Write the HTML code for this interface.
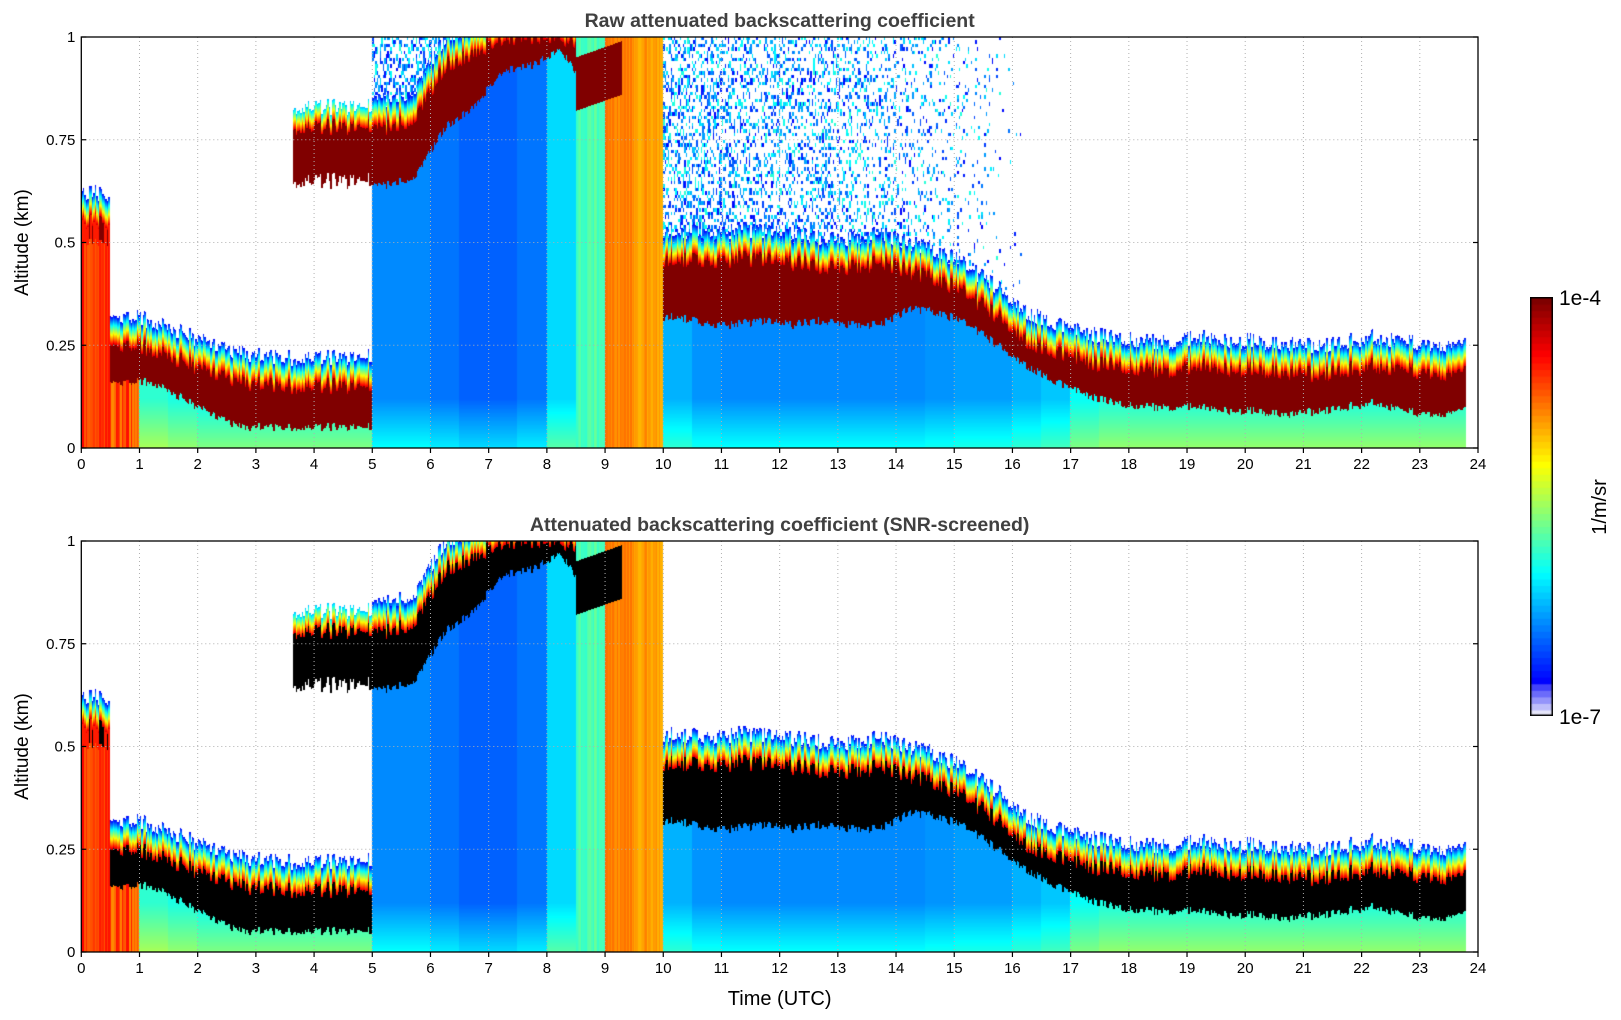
<!DOCTYPE html>
<html><head><meta charset="utf-8">
<style>
body{margin:0;background:#fff;width:1621px;height:1020px;overflow:hidden;font-family:"Liberation Sans","DejaVu Sans",sans-serif;}
canvas{position:absolute;}
svg{position:absolute;left:0;top:0;}
</style></head>
<body>
<canvas id="c1" width="1397" height="411" style="left:81px;top:37px"></canvas>
<canvas id="c2" width="1397" height="411" style="left:81px;top:541px"></canvas>
<canvas id="cb" width="23" height="419" style="left:1530px;top:297px"></canvas>
<svg id="ax" width="1621" height="1020"></svg>
<script>
// ---- data (per half hour, midpoints 0.25 ... 23.75) ----
const hours=[0.25,0.75,1.25,1.75,2.25,2.75,3.25,3.75,4.25,4.75,5.25,5.75,6.25,6.75,7.25,7.75,8.25,8.75,9.25,9.75,10.25,10.75,11.25,11.75,12.25,12.75,13.25,13.75,14.25,14.75,15.25,15.75,16.25,16.75,17.25,17.75,18.25,18.75,19.25,19.75,20.25,20.75,21.25,21.75,22.25,22.75,23.25,23.75];
const layerBase=[0.50,0.16,0.16,0.12,0.08,0.05,0.05,0.05,0.05,0.05,0.64,0.66,0.78,0.83,0.92,0.93,0.97,0.85,0,0,0.32,0.30,0.30,0.31,0.30,0.31,0.30,0.30,0.34,0.33,0.30,0.25,0.20,0.16,0.13,0.11,0.10,0.10,0.10,0.09,0.09,0.08,0.09,0.10,0.11,0.09,0.08,0.09];
const layerTop=[0.55,0.25,0.24,0.21,0.18,0.16,0.15,0.15,0.15,0.15,0.78,0.80,0.93,0.96,1.00,1.00,1.00,0.95,0,0,0.46,0.45,0.46,0.46,0.45,0.44,0.44,0.45,0.43,0.41,0.37,0.32,0.26,0.23,0.21,0.20,0.19,0.19,0.20,0.19,0.19,0.18,0.18,0.19,0.20,0.19,0.18,0.18];
const fillVal=[0.82,0.80,0.42,0.40,0.38,0.38,0.38,0.38,0.38,0.38,0.26,0.26,0.24,0.22,0.22,0.24,0.34,0.45,0.75,0.72,0.30,0.27,0.26,0.26,0.26,0.26,0.26,0.26,0.26,0.27,0.28,0.28,0.30,0.32,0.38,0.40,0.40,0.40,0.40,0.40,0.40,0.40,0.40,0.40,0.40,0.40,0.40,0.40];
const noiseDensity=[0,0,0,0,0,0,0,0,0,0,0.35,0.4,0.45,0.45,0.45,0.45,0.45,0.45,0.45,0.4,0.35,0.35,0.3,0.3,0.3,0.3,0.25,0.2,0.15,0.1,0.08,0.03,0,0,0,0,0,0,0,0,0,0,0,0,0,0,0,0];
const rainFlag=[0,0,0,0,0,0,0,0,0,0,0,0,0,0,0,0,0,1,1,1,0,0,0,0,0,0,0,0,0,0,0,0,0,0,0,0,0,0,0,0,0,0,0,0,0,0,0,0];
const layer2Base=[0,0,0,0,0,0,0,0.65,0.65,0.65,0,0,0,0,0,0,0,0,0,0,0,0,0,0,0,0,0,0,0,0,0,0,0,0,0,0,0,0,0,0,0,0,0,0,0,0,0,0];
const layer2Top=[0,0,0,0,0,0,0,0.78,0.78,0.78,0,0,0,0,0,0,0,0,0,0,0,0,0,0,0,0,0,0,0,0,0,0,0,0,0,0,0,0,0,0,0,0,0,0,0,0,0,0];
const xTicks=[0,1,2,3,4,5,6,7,8,9,10,11,12,13,14,15,16,17,18,19,20,21,22,23,24];
const yTicks=[0,0.25,0.5,0.75,1];
const yTickLabels=["0","0.25","0.5","0.75","1"];

const X0=81.3,X1=1478,W=X1-X0,H=411;
const xs=t=>X0+t/24*W;
function interp(arr,t){
  if(t<=hours[0])return arr[0];
  if(t>=hours[hours.length-1])return arr[arr.length-1];
  let i=Math.floor((t-0.25)/0.5);const f=(t-hours[i])/0.5;
  if(Math.abs(arr[i]-arr[i+1])>0.15)return f<0.5?arr[i]:arr[i+1];
  return arr[i]*(1-f)+arr[i+1]*f;
}
function near(arr,t){return arr[Math.min(arr.length-1,Math.max(0,Math.floor(t/0.5)))];}
function hash(a,b){let h=(a*374761393+b*668265263)|0;h=(h^(h>>>13))*1274126177|0;return ((h^(h>>>16))>>>0)/4294967296;}
function jet(v){const c=x=>Math.max(0,Math.min(1,x));return [c(1.5-Math.abs(4*v-3))*255,c(1.5-Math.abs(4*v-2))*255,c(1.5-Math.abs(4*v-1))*255];}

function value(t,z,col,screened){
  if(t>23.8)return null;
  const cj=(hash(col,7)-0.5)*0.04;
  if(near(rainFlag,t)){
    if(t<9.3 && z>0.82+(t-8.5)*0.05 && z<0.95+(t-8.5)*0.05) return 1;
    return near(fillVal,t)+(hash(col,3)-0.5)*0.06;
  }
  const base=interp(layerBase,t)+cj*0.5,top=interp(layerTop,t)+cj;
  const b2=near(layer2Base,t),t2=near(layer2Top,t);
  if(b2>0&&t>3.65&&z>=b2+cj&&z<=t2+cj)return 1;
  if(b2>0&&t>3.65&&z>t2+cj&&z<t2+cj+0.05)return 0.9-(z-t2-cj)/0.05*0.6;
  if(z<base){
    const f=near(fillVal,t);
    if(t<1) return f+(hash(col,11)-0.5)*0.15;
    return f+0.12*Math.max(0,1-z/0.12);
  }
  if(z<=top)return (t<0.5&&hash(col,5)<0.5)?0.85:1;
  const fw=0.07;
  if(z<top+fw)return 0.92-(z-top)/fw*0.8;
  const nd=interp(noiseDensity,t);
  if(!screened && nd>0 && hash(col,Math.floor(z*120))<nd) return 0.12+hash(col*3,Math.floor(z*60))*0.3;
  if(screened && t>5 && t<8.5 && z<0.85) return 0.22;
  return null;
}
function draw(id,screened){
  const cv=document.getElementById(id),ctx=cv.getContext('2d');
  const img=ctx.createImageData(cv.width,cv.height),d=img.data;
  for(let px=0;px<cv.width;px++){
    const t=(px+0.5)/W*24;
    for(let py=0;py<cv.height;py++){
      const z=1-(py+0.5)/H;
      let v=value(t,z,Math.floor(px/1.5),screened);
      const k=(py*cv.width+px)*4;
      let c;
      if(v===null)c=[255,255,255];
      else{v=Math.max(0.1,Math.min(1,v));c=(screened&&v>=0.97)?[0,0,0]:jet(v);}
      d[k]=c[0];d[k+1]=c[1];d[k+2]=c[2];d[k+3]=255;
    }
  }
  ctx.putImageData(img,0,0);
}
draw('c1',false);draw('c2',true);
// colorbar
(function(){const cv=document.getElementById('cb'),ctx=cv.getContext('2d');const n=64;
for(let i=0;i<n;i++){const f=i/(n-1);let c;
 if(f<0.07){const a=f/0.07;c=[230-180*a,230-180*a,250];}else{c=jet(0.12+0.88*(f-0.07)/0.93);}
 ctx.fillStyle=`rgb(${c[0]|0},${c[1]|0},${c[2]|0})`;const h=cv.height/n;ctx.fillRect(0,cv.height-(i+1)*h,cv.width,h+1);}
ctx.strokeStyle='#000';ctx.lineWidth=1.5;ctx.strokeRect(0.75,0.75,cv.width-1.5,cv.height-1.5);})();

// axes
const svg=document.getElementById('ax');const NS='http://www.w3.org/2000/svg';
function mk(tag,attrs,txt){const e=document.createElementNS(NS,tag);for(const k in attrs)e.setAttribute(k,attrs[k]);if(txt!==undefined)e.textContent=txt;svg.appendChild(e);return e;}
function panel(top,title,pname){
  const ys=z=>top+H-z*H;
  xTicks.forEach(v=>{const x=xs(v);
    if(v>0&&v<24){const g=mk('line',{x1:x,x2:x,y1:top,y2:top+H,stroke:'#b0b0b0','stroke-width':1,'stroke-dasharray':'1,3'});
    
    }
    const tk=mk('line',{x1:x,x2:x,y1:top+H,y2:top+H+5,stroke:'#000','stroke-width':1.2});
    
    
    const tl=mk('text',{x:x,y:top+H+21,'font-size':15,'text-anchor':'middle',fill:'#000'},String(v));
    
    
  });
  yTicks.forEach((v,i)=>{const y=ys(v);
    if(v>0&&v<1){const g=mk('line',{x1:X0,x2:X1,y1:y,y2:y,stroke:'#b0b0b0','stroke-width':1,'stroke-dasharray':'1,3'});
    
    }
    const tk=mk('line',{x1:X0,x2:X0+5,y1:y,y2:y,stroke:'#000','stroke-width':1.2});
    
    
    const tk2=mk('line',{x1:X1-5,x2:X1,y1:y,y2:y,stroke:'#000','stroke-width':1.2});
    
    
    const tl=mk('text',{x:X0-6,y:y+5,'font-size':15,'text-anchor':'end',fill:'#000'},yTickLabels[i]);
    
    
  });
  const fr=mk('rect',{x:X0,y:top,width:W,height:H,fill:'none',stroke:'#000','stroke-width':1.3});
  
  
  const tt=mk('text',{x:(X0+X1)/2,y:top-10,'font-size':19.5,'font-weight':'bold','text-anchor':'middle',fill:'#404040'},title);
  
  
  const yl=mk('text',{x:0,y:0,'font-size':19,'text-anchor':'middle',fill:'#000',transform:`translate(28,${top+H/2}) rotate(-90)`},'Altitude (km)');
  
  
}
panel(37,'Raw attenuated backscattering coefficient','raw-panel');
panel(541,'Attenuated backscattering coefficient (SNR-screened)','screened-panel');
const xl=mk('text',{x:(X0+X1)/2,y:1005,'font-size':20,'text-anchor':'middle',fill:'#000'},'Time (UTC)');


const c1=mk('text',{x:1559,y:305,'font-size':21,fill:'#000'},'1e-4');


const c2=mk('text',{x:1559,y:724,'font-size':21,fill:'#000'},'1e-7');


const cu=mk('text',{x:0,y:0,'font-size':20,'text-anchor':'middle',fill:'#000',transform:'translate(1606,507) rotate(-90)'},'1/m/sr');


</script>
</body></html>
